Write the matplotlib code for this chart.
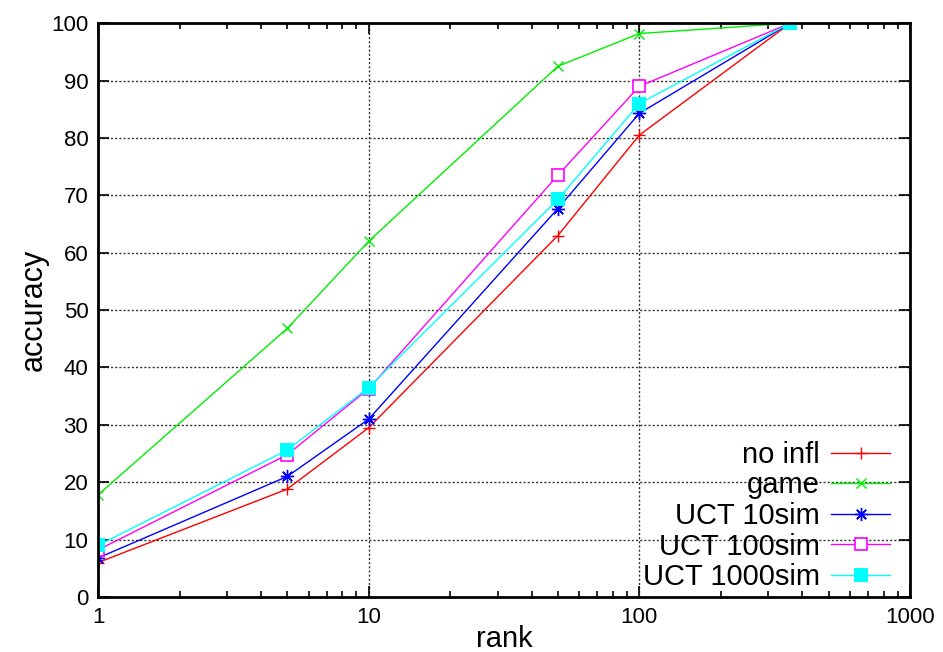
import matplotlib
matplotlib.use("Agg")
import matplotlib.pyplot as plt
from matplotlib.ticker import FixedLocator, LogLocator, NullFormatter

plt.rcParams['font.family'] = ['Liberation Sans', 'DejaVu Sans']

# data
rank = [1, 5, 10, 50, 100, 361]
no_infl = [6.0, 18.8, 29.5, 63.0, 80.5, 100]
game = [17.8, 46.8, 62.0, 92.5, 98.2, 100]
uct_10 = [6.8, 21.0, 31.0, 67.7, 84.3, 100]
uct_100 = [8.2, 24.8, 36.3, 73.5, 89.0, 100]
uct_1000 = [9.0, 25.6, 36.5, 69.3, 86.0, 100]

labels = ['no infl', 'game', 'UCT 10sim', 'UCT 100sim', 'UCT 1000sim']

fig = plt.figure(figsize=(9.43, 6.52), dpi=100)
ax = fig.add_axes([0.104, 0.0844, 0.861, 0.880])

lw = 1.0
ax.plot(rank, no_infl, color='#ff0000', lw=lw, marker='+', ms=9, mew=1.0, label=labels[0])
ax.plot(rank, game, color='#00ee00', lw=lw, marker='x', ms=7.5, mew=1.0, label=labels[1])
ax.plot(rank, uct_10, color='#0000ff', lw=lw, marker=(8, 2, 0), ms=9.5, mew=1.0, label=labels[2])
ax.plot(rank, uct_100, color='#ff00ff', lw=lw, marker='s', ms=8.5, mfc='white', mew=1.2, label=labels[3])
ax.plot(rank, uct_1000, color='#00ffff', lw=lw, marker='s', ms=9.5, mew=0, label=labels[4])

ax.set_xscale('log')
ax.set_xlim(1, 1000)
ax.set_ylim(0, 100)
ax.xaxis.set_major_locator(FixedLocator([1, 10, 100, 1000]))
ax.xaxis.set_minor_locator(LogLocator(base=10, subs=range(2, 10)))
ax.xaxis.set_minor_formatter(NullFormatter())
ax.set_xticklabels(['1', '10', '100', '1000'])
ax.set_yticks(range(0, 101, 10))

ax.grid(True, which='major', color='#333333', linestyle=(0, (1.5, 1.5)), linewidth=1.0)
ax.tick_params(which='both', direction='in', top=True, right=True, labelsize=16, width=1.2)
ax.tick_params(which='major', length=8, pad=7)
ax.tick_params(which='minor', length=4)
for s in ax.spines.values():
    s.set_linewidth(2)

ax.set_xlabel('rank', fontsize=21, labelpad=-2)
ax.set_ylabel('accuracy', fontsize=22, labelpad=2)

ax.legend(loc='lower right', bbox_to_anchor=(0.975, 0.01), frameon=False, markerfirst=False,
          fontsize=21, handlelength=2.0, labelspacing=0.09, borderaxespad=0, borderpad=0,
          handletextpad=0.4)

fig.savefig('out.png', dpi=100)
